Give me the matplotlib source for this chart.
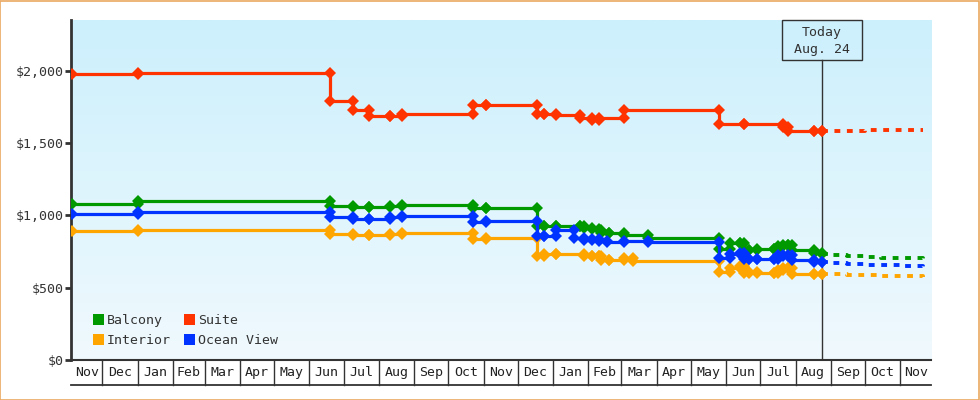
import matplotlib
matplotlib.use("Agg")
import matplotlib.pyplot as plt
import matplotlib.dates as mdates
import matplotlib.transforms as mtransforms
from matplotlib.colors import LinearSegmentedColormap
from matplotlib.patches import Rectangle, Patch
import numpy as np
from datetime import datetime, timedelta

# ---------------- data ----------------
balcony_dates = ["2022-11-04", "2023-01-01", "2023-06-19", "2023-07-09", "2023-07-23", "2023-08-11",
                 "2023-08-21", "2023-10-23", "2023-11-03", "2023-12-18", "2023-12-24", "2024-01-04",
                 "2024-01-25", "2024-01-28", "2024-02-04", "2024-02-10", "2024-02-12", "2024-02-19",
                 "2024-03-03", "2024-03-24", "2024-05-26", "2024-06-04", "2024-06-13", "2024-06-17",
                 "2024-06-21", "2024-06-28", "2024-07-13", "2024-07-17", "2024-07-21", "2024-07-25",
                 "2024-07-29", "2024-08-17", "2024-08-24"]
balcony_vals = [1080, 1099, 1061, 1057, 1057, 1061, 1068, 1050, 1050, 927, 927, 927, 923, 915, 908, 900,
                877, 877, 862, 845, 768, 808, 808, 762, 762, 768, 770, 785, 796, 796, 757, 740, 734]

interior_dates = ["2022-11-04", "2023-01-01", "2023-06-19", "2023-07-09", "2023-07-23", "2023-08-11",
                  "2023-08-21", "2023-10-23", "2023-11-03", "2023-12-18", "2023-12-24", "2024-01-04",
                  "2024-01-28", "2024-02-04", "2024-02-10", "2024-02-12", "2024-02-19", "2024-03-03",
                  "2024-03-11", "2024-05-26", "2024-06-04", "2024-06-13", "2024-06-17", "2024-06-21",
                  "2024-06-28", "2024-07-13", "2024-07-17", "2024-07-21", "2024-07-25", "2024-07-29",
                  "2024-08-17", "2024-08-24"]
interior_vals = [891, 900, 870, 862, 862, 872, 877, 835, 842, 722, 732, 732, 720, 720, 716, 694, 694, 704,
                 685, 611, 639, 650, 604, 611, 600, 598, 625, 635, 635, 595, 595, 596]

ocean_dates = ["2022-11-04", "2023-01-01", "2023-06-19", "2023-07-09", "2023-07-23", "2023-08-11",
               "2023-08-21", "2023-10-23", "2023-11-03", "2023-12-18", "2023-12-24", "2024-01-04",
               "2024-01-19", "2024-01-28", "2024-02-04", "2024-02-10", "2024-02-17", "2024-03-03",
               "2024-03-24", "2024-05-26", "2024-06-04", "2024-06-13", "2024-06-17", "2024-06-21",
               "2024-06-28", "2024-07-13", "2024-07-17", "2024-07-21", "2024-07-25", "2024-07-29",
               "2024-08-17", "2024-08-24"]
ocean_vals = [1011, 1022, 990, 976, 976, 988, 997, 957, 960, 854, 859, 900, 843, 831, 835, 824, 819, 822,
              819, 704, 734, 739, 697, 697, 697, 700, 727, 720, 727, 692, 675, 678]

suite_dates = ["2022-11-04", "2023-01-01", "2023-06-19", "2023-07-09", "2023-07-23", "2023-08-11",
               "2023-08-21", "2023-10-23", "2023-11-03", "2023-12-18", "2023-12-24", "2024-01-04",
               "2024-01-25", "2024-02-04", "2024-02-10", "2024-03-03", "2024-05-26", "2024-06-17",
               "2024-07-21", "2024-07-25", "2024-08-17", "2024-08-24"]
suite_vals = [1980, 1987, 1790, 1730, 1685, 1685, 1700, 1765, 1765, 1697, 1697, 1690, 1673, 1661, 1675,
              1731, 1632, 1632, 1610, 1583, 1583, 1583]

forecast_dates = ["2024-08-24", "2024-09-01", "2024-09-15", "2024-10-01", "2024-10-15", "2024-11-01", "2024-11-21"]
balcony_fc = [734, 728, 722, 715, 708, 702, 697]
ocean_fc = [678, 672, 666, 660, 654, 648, 642]
interior_fc = [596, 593, 590, 586, 582, 578, 573]
suite_fc = [1583, 1583, 1583, 1590, 1592, 1592, 1592]

series_names = ["Balcony", "Interior", "Suite", "Ocean View"]
month_labels = ["Nov", "Dec", "Jan", "Feb", "Mar", "Apr", "May", "Jun", "Jul", "Aug", "Sep", "Oct",
                "Nov", "Dec", "Jan", "Feb", "Mar", "Apr", "May", "Jun", "Jul", "Aug", "Sep", "Oct", "Nov"]
y_ticks = [0, 500, 1000, 1500, 2000]
y_tick_labels = ["$0", "$500", "$1,000", "$1,500", "$2,000"]
today_label = "Today\nAug. 24"
today_date = "2024-08-24"

# ---------------- style ----------------
C_GREEN = "#009900"
C_ORANGE = "#ffa500"
C_RED = "#ff3300"
C_BLUE = "#0033ff"
DARK = "#333333"
FONT = "DejaVu Sans Mono"
FS = 9.5

plt.rcParams["font.family"] = [FONT, "DejaVu Sans"]

fig = plt.figure(figsize=(9.8, 4.0), dpi=100)
fig.patch.set_facecolor("white")
ax = fig.add_axes([71 / 980, 40 / 400, 860 / 980, 340 / 400])

def d(s):
    return mdates.date2num(datetime.strptime(s, "%Y-%m-%d"))

x0 = mdates.date2num(datetime(2022, 11, 3, 12))
x1 = mdates.date2num(datetime(2024, 11, 28))

# background gradient
cmap = LinearSegmentedColormap.from_list("bg", ["#ccf0fc", "#f0f9fe"])
ax.imshow(np.linspace(0, 1, 256).reshape(-1, 1), cmap=cmap, extent=[0, 1, 0, 1],
          transform=ax.transAxes, aspect="auto", zorder=0, interpolation="bilinear")

def step_xy(dates, vals):
    xs = [d(dates[0])]
    ys = [vals[0]]
    for i in range(1, len(dates)):
        xs += [d(dates[i]), d(dates[i])]
        ys += [vals[i - 1], vals[i]]
    return xs, ys

series = [
    (suite_dates, suite_vals, suite_fc, C_RED),
    (balcony_dates, balcony_vals, balcony_fc, C_GREEN),
    (interior_dates, interior_vals, interior_fc, C_ORANGE),
    (ocean_dates, ocean_vals, ocean_fc, C_BLUE),
]
for k, (ds, vs, fc, col) in enumerate(series):
    xs, ys = step_xy(ds, vs)
    ax.plot(xs, ys, color=col, lw=2.3, marker="D", markersize=6, markeredgewidth=0,
            solid_joinstyle="miter", zorder=3 + k)
    fx = [d(s) for s in forecast_dates]
    ax.step(fx, fc, where="post", color=col, lw=2.8, linestyle=(0, (1.5, 1.7)),
            zorder=3 + k)

ax.set_xlim(x0, x1)
ax.set_ylim(0, 2350)

# axes styling
for s in ["top", "right"]:
    ax.spines[s].set_visible(False)
ax.spines["left"].set_color(DARK)
ax.spines["left"].set_linewidth(2)
ax.spines["bottom"].set_color(DARK)
ax.spines["bottom"].set_linewidth(1.5)
ax.set_yticks(y_ticks)
ax.set_yticklabels(y_tick_labels, fontsize=FS, color=DARK, family=FONT)
ax.tick_params(axis="y", length=4, width=2, color=DARK, pad=1)
ax.set_xticks([])

# month band under axis
trans = mtransforms.blended_transform_factory(ax.transData, ax.transAxes)
band = -25 / 340
month_starts = []
y, m = 2022, 12
while True:
    dt = datetime(y, m, 1)
    if mdates.date2num(dt) >= x1:
        break
    month_starts.append(mdates.date2num(dt))
    m += 1
    if m > 12:
        m = 1
        y += 1
edges = [x0] + month_starts + [x1]
for i, lab in enumerate(month_labels):
    cx = (edges[i] + edges[i + 1]) / 2
    ax.text(cx, band / 2, lab, transform=trans, ha="center", va="center",
            fontsize=FS, color="#222222", family=FONT)
for ms in month_starts:
    ax.plot([ms, ms], [0, band], transform=trans, color=DARK, lw=1, clip_on=False)
ax.plot([0, 1], [band, band], transform=ax.transAxes, color=DARK, lw=1.3, clip_on=False)

# today marker
td = d(today_date)
box_bottom = (360 - 60) / 340
ax.plot([td, td], [0, box_bottom], transform=trans, color=DARK, lw=1, zorder=2)
half_w = 40.2 / (860 / (x1 - x0))
ax.add_patch(Rectangle((td - half_w, box_bottom), 2 * half_w, 1 - box_bottom, transform=trans,
                       facecolor="none", edgecolor=DARK, lw=1, zorder=10, clip_on=False))
ax.text(td, (360 - 41) / 340, today_label, transform=trans, ha="center", va="center",
        fontsize=FS, color=DARK, family=FONT, linespacing=1.35, zorder=11)

# legend
colors = [C_GREEN, C_ORANGE, C_RED, C_BLUE]
handles = [Patch(facecolor=c, edgecolor="none") for c in colors]
leg = ax.legend(handles, series_names, loc="upper left", bbox_to_anchor=((93 - 71) / 860, (360 - 314) / 340),
                ncol=2, frameon=False, borderpad=0, borderaxespad=0, handlelength=0.85, handleheight=0.85,
                handletextpad=0.2, columnspacing=1.0, labelspacing=0.55,
                prop={"family": FONT, "size": FS})
for t in leg.get_texts():
    t.set_color(DARK)

# orange border around figure
fig.patches.append(Rectangle((0.0005, 0.001), 0.998, 0.997, transform=fig.transFigure,
                             facecolor="none", edgecolor="#eaa860", lw=1.2))

fig.savefig("out.png", dpi=100)
